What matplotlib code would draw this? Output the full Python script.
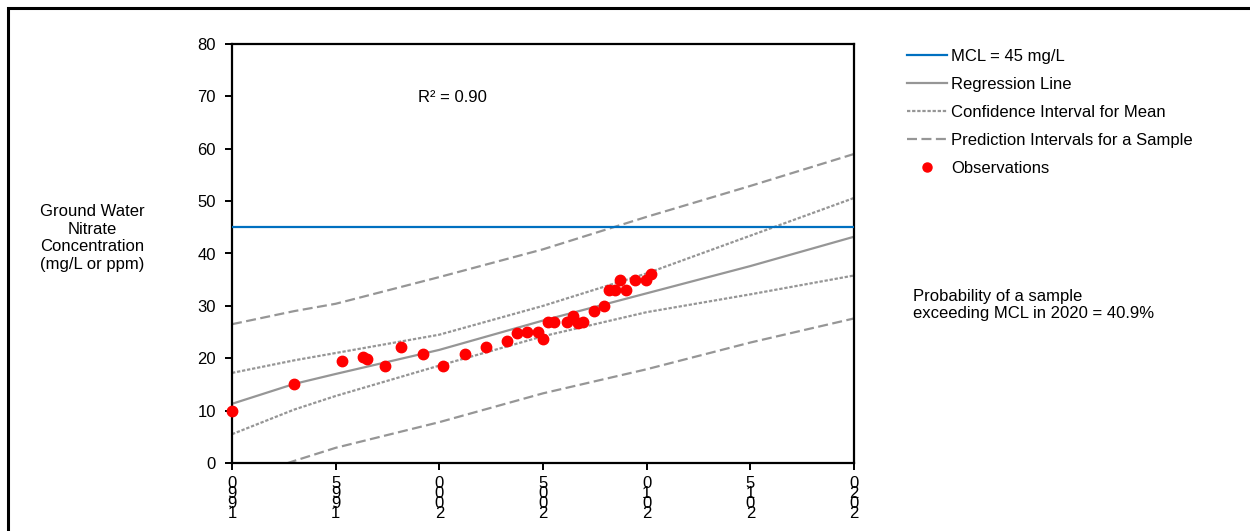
import matplotlib
matplotlib.use("Agg")
import matplotlib.pyplot as plt
from matplotlib.lines import Line2D
from matplotlib.patches import Rectangle

plt.rcParams['font.family'] = ['Liberation Sans', 'DejaVu Sans']

# Observations (year, nitrate mg/L)
obs_year = [1990.0, 1993.0, 1995.3, 1996.3, 1996.5, 1997.4, 1998.15, 1999.2, 2000.2, 2001.25,
            2002.25, 2003.25, 2003.75, 2004.25, 2004.75, 2005.0, 2005.25, 2005.55, 2006.15, 2006.45,
            2006.7, 2006.95, 2007.45, 2007.95, 2008.2, 2008.45, 2008.7, 2009.0, 2009.45, 2009.95, 2010.2]
obs_val = [9.9, 15.1, 19.4, 20.3, 19.8, 18.6, 22.1, 20.9, 18.6, 20.9,
           22.2, 23.3, 24.8, 25.0, 25.0, 23.6, 26.9, 26.9, 26.9, 28.1,
           26.8, 26.9, 29.0, 30.0, 33.0, 33.0, 35.0, 33.0, 35.0, 34.9, 36.0]

# Fitted curves
line_year = [1990, 1993, 1995, 2000, 2005, 2010, 2015, 2020]
regression = [11.3, 15.1, 17.0, 21.6, 27.2, 32.4, 37.6, 43.2]
ci_upper = [17.2, 19.6, 21.0, 24.5, 30.0, 36.2, 43.4, 50.6]
ci_lower = [5.5, 10.2, 12.8, 18.6, 24.2, 28.8, 32.2, 35.8]
pi_upper = [26.5, 29.0, 30.4, 35.5, 40.8, 47.0, 52.9, 59.0]
pi_lower = [-3.6, 0.4, 2.9, 7.8, 13.3, 17.9, 23.0, 27.6]

mcl = 45
x_ticks = [1990, 1995, 2000, 2005, 2010, 2015, 2020]
y_ticks = [0, 10, 20, 30, 40, 50, 60, 70, 80]

GRAY = '#969696'
BLUE = '#0070C0'

fig = plt.figure(figsize=(12.5, 5.31), dpi=100)
W, H = 1250, 531
ax = fig.add_axes([232 / W, (H - 463) / H, (854 - 232) / W, (463 - 44) / H])

ax.axhline(mcl, color=BLUE, lw=1.6, zorder=3)
ax.plot(line_year, regression, color=GRAY, lw=1.6, zorder=2)
ax.plot(line_year, ci_upper, color=GRAY, lw=1.6, ls=(0, (1.5, 0.8)), zorder=2)
ax.plot(line_year, ci_lower, color=GRAY, lw=1.6, ls=(0, (1.5, 0.8)), zorder=2)
ax.plot(line_year, pi_upper, color=GRAY, lw=1.6, ls=(0, (4.5, 2)), zorder=2)
ax.plot(line_year, pi_lower, color=GRAY, lw=1.6, ls=(0, (4.5, 2)), zorder=2)
ax.plot(obs_year, obs_val, 'o', color='#FF0000', ms=7.5, mec='#FF0000', zorder=4,
        clip_on=False)

ax.set_xlim(1990, 2020)
ax.set_ylim(0, 80)
ax.set_xticks(x_ticks)
ax.set_xticklabels(['\n'.join(reversed(str(y))) for y in x_ticks],
                   linespacing=0.6, va='top')
ax.set_yticks(y_ticks)
for s in ax.spines.values():
    s.set_linewidth(1.6)
    s.set_color('black')
ax.tick_params(axis='both', direction='out', length=5, width=1.4, labelsize=12,
               colors='black')
ax.tick_params(axis='x', pad=4)
ax.tick_params(axis='y', pad=6.5)

fig.text(418 / W, (H - 98) / H, 'R² = 0.90', fontsize=12, va='center', ha='left')

fig.text(92 / W, (H - 238) / H, 'Ground Water\nNitrate\nConcentration\n(mg/L or ppm)',
         ha='center', va='center', fontsize=12, linespacing=1.2)

fig.text(913 / W, (H - 305) / H, 'Probability of a sample\nexceeding MCL in 2020 = 40.9%',
         ha='left', va='center', fontsize=12, linespacing=1.15)

handles = [
    Line2D([], [], color=BLUE, lw=1.6),
    Line2D([], [], color=GRAY, lw=1.6),
    Line2D([], [], color=GRAY, lw=1.6, ls=(0, (1.5, 0.8))),
    Line2D([], [], color=GRAY, lw=1.6, ls=(0, (4.5, 2))),
    Line2D([], [], color='#FF0000', marker='o', ls='none', ms=6.5),
]
labels = ['MCL = 45 mg/L', 'Regression Line', 'Confidence Interval for Mean',
          'Prediction Intervals for a Sample', 'Observations']
fig.legend(handles, labels, loc='upper left', bbox_to_anchor=(907 / W, (H - 49) / H),
           frameon=False, fontsize=12, handlelength=2.4, handletextpad=0.25,
           labelspacing=0.78, borderpad=0, borderaxespad=0)

fig.patches.append(Rectangle((8 / W, -0.2), 2.0, (H - 8) / H + 0.2,
                             transform=fig.transFigure, fill=False, edgecolor='black',
                             lw=2.2, figure=fig))

fig.savefig('out.png', dpi=100)
